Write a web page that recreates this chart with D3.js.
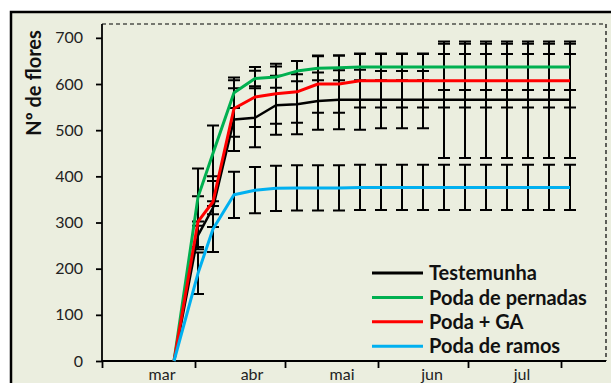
<!DOCTYPE html>
<html>
<head>
<meta charset="utf-8">
<script src="https://cdn.jsdelivr.net/npm/d3@7"></script>
<style>
  html, body { margin: 0; padding: 0; background: #ffffff; }
  svg { display: block; }
</style>
</head>
<body>
<svg id="chart" width="611" height="383"></svg>
<script>
// Observation dates (weekly counts)
const sampleDates = [
  "2012-03-25", "2012-04-02", "2012-04-07", "2012-04-14", "2012-04-21",
  "2012-04-28", "2012-05-05", "2012-05-12", "2012-05-19", "2012-05-26",
  "2012-06-02", "2012-06-09", "2012-06-16", "2012-06-23", "2012-06-30",
  "2012-07-07", "2012-07-14", "2012-07-21", "2012-07-28", "2012-08-04"
];

// Mean number of flowers per treatment
const testemunha     = [0, 272, 332, 523, 527, 554, 556, 563, 566, 566, 566, 566, 566, 566, 566, 566, 566, 566, 566, 566];
const podaPernadas   = [0, 355, 450, 581, 612, 615, 628, 634, 635, 637, 637, 637, 637, 637, 637, 637, 637, 637, 637, 637];
const podaGA         = [0, 302, 345, 547, 572, 579, 583, 600, 600, 607, 607, 607, 607, 607, 607, 607, 607, 607, 607, 607];
const podaRamos      = [0, 190, 286, 360, 370, 374, 375, 375, 375, 376, 376, 376, 376, 376, 376, 376, 376, 376, 376, 376];

// Standard deviations (error bars)
const testemunhaErr   = [0, 30, 14, 68, 64, 64, 65, 62, 64, 65, 62, 62, 62, 126, 126, 126, 126, 126, 126, 126];
const podaPernadasErr = [0, 62, 60, 33, 17, 23, 22, 26, 27, 29, 29, 29, 29, 50, 50, 50, 50, 50, 50, 50];
const podaGAErr       = [0, 55, 55, 61, 65, 65, 67, 62, 62, 58, 58, 58, 58, 58, 58, 58, 58, 58, 58, 58];
const podaRamosErr    = [0, 45, 50, 50, 50, 49, 49, 49, 49, 49, 49, 49, 49, 49, 49, 49, 49, 49, 49, 49];

const seriesNames  = ["Testemunha", "Poda de pernadas", "Poda + GA", "Poda de ramos"];
const seriesColors = ["#000000", "#00B050", "#FF0000", "#00B0F0"];

// Axis ticks and labels
const yTicks = [0, 100, 200, 300, 400, 500, 600, 700];
const monthTickDates = ["2012-03-01", "2012-04-01", "2012-05-01", "2012-06-01", "2012-07-01", "2012-08-01"];
const monthLabels = ["mar", "abr", "mai", "jun", "jul"];
const monthLabelDates = ["2012-03-21", "2012-04-20", "2012-05-20", "2012-06-19", "2012-07-19"];

const parse = d3.timeParse("%Y-%m-%d");
const dates = sampleDates.map(parse);

const seriesValues = [testemunha, podaPernadas, podaGA, podaRamos];
const seriesErrors = [testemunhaErr, podaPernadasErr, podaGAErr, podaRamosErr];
const series = seriesNames.map((name, k) => ({
  name,
  color: seriesColors[k],
  width: k === 0 ? 2.5 : 3,
  points: dates.map((d, i) => ({ date: d, value: seriesValues[k][i], err: seriesErrors[k][i] }))
}));

const svg = d3.select("#chart");
const font = "Lato, 'Open Sans', sans-serif";

// Chart background and frame
svg.append("rect")
  .attr("x", 11).attr("y", 12)
  .attr("width", 700).attr("height", 500)
  .attr("fill", "#EBEEDF")
  .attr("stroke", "#000").attr("stroke-width", 2.5);

const plot = { left: 102, right: 606, top: 24, bottom: 361 };

const x = d3.scaleTime()
  .domain([parse("2012-03-01"), parse("2012-08-16")])
  .range([plot.left, plot.right]);

const y = d3.scaleLinear()
  .domain([0, 730])
  .range([plot.bottom, plot.top]);

// Dashed plot-area border (top and right)
svg.append("path")
  .attr("d", `M${plot.left},${plot.top}H${plot.right}V${plot.bottom}`)
  .attr("fill", "none")
  .attr("stroke", "#000")
  .attr("stroke-width", 1.2)
  .attr("stroke-dasharray", "4,3");

// Y axis
const yAxis = svg.append("g")
  .attr("transform", `translate(${plot.left},0)`)
  .call(d3.axisLeft(y).tickValues(yTicks).tickSize(6).tickPadding(13).tickSizeOuter(0));
yAxis.select(".domain").attr("stroke-width", 1.8).attr("d", `M0,${plot.top}V${plot.bottom}`);
yAxis.selectAll(".tick line").attr("stroke-width", 1.8);
yAxis.selectAll(".tick text")
  .attr("font-family", font).attr("font-size", 16).attr("fill", "#222");

// X axis: month boundaries as ticks, labels placed inside each month
const xAxis = svg.append("g")
  .attr("transform", `translate(0,${plot.bottom})`)
  .call(d3.axisBottom(x).tickValues(monthTickDates.map(parse)).tickSize(7).tickFormat("").tickSizeOuter(0));
xAxis.select(".domain").attr("stroke-width", 1.8).attr("d", `M${plot.left},0H${plot.right}`);
xAxis.selectAll(".tick line").attr("stroke-width", 1.8);

svg.append("g").selectAll("text")
  .data(monthLabels)
  .join("text")
  .attr("x", (d, i) => x(parse(monthLabelDates[i])))
  .attr("y", 380)
  .attr("text-anchor", "middle")
  .attr("font-family", font)
  .attr("font-size", 16)
  .attr("fill", "#222")
  .text(d => d);

// Y axis title
svg.append("text")
  .attr("transform", "translate(41,83) rotate(-90)")
  .attr("text-anchor", "middle")
  .attr("font-family", font)
  .attr("font-weight", "bold")
  .attr("font-size", 20)
  .attr("fill", "#111")
  .text("Nº de flores");

// Error bars
const capHalf = 6;
const errG = svg.append("g")
  .attr("stroke", "#000")
  .attr("stroke-width", 2)
  .attr("fill", "none");
series.forEach(s => {
  const g = errG.append("g");
  g.selectAll("path")
    .data(s.points)
    .join("path")
    .attr("d", p => {
      const px = x(p.date), lo = y(p.value - p.err), hi = y(p.value + p.err);
      return `M${px},${lo}V${hi}M${px - capHalf},${hi}H${px + capHalf}M${px - capHalf},${lo}H${px + capHalf}`;
    });
});

// Series lines
const line = d3.line().x(p => x(p.date)).y(p => y(p.value));
svg.append("g").selectAll("path")
  .data(series)
  .join("path")
  .attr("d", s => line(s.points))
  .attr("fill", "none")
  .attr("stroke", s => s.color)
  .attr("stroke-width", s => s.width)
  .attr("stroke-linejoin", "round");

// Legend
const legend = svg.append("g").attr("transform", "translate(372,273)");
const rowH = 24.4;
const rows = legend.selectAll("g")
  .data(series)
  .join("g")
  .attr("transform", (s, i) => `translate(0,${i * rowH})`);
rows.append("line")
  .attr("x1", 0).attr("x2", 51)
  .attr("stroke", s => s.color)
  .attr("stroke-width", 3);
rows.append("text")
  .attr("x", 57)
  .attr("dy", "0.36em")
  .attr("font-family", font)
  .attr("font-weight", "bold")
  .attr("font-size", 20)
  .attr("fill", "#111")
  .text(s => s.name);
</script>
</body>
</html>
